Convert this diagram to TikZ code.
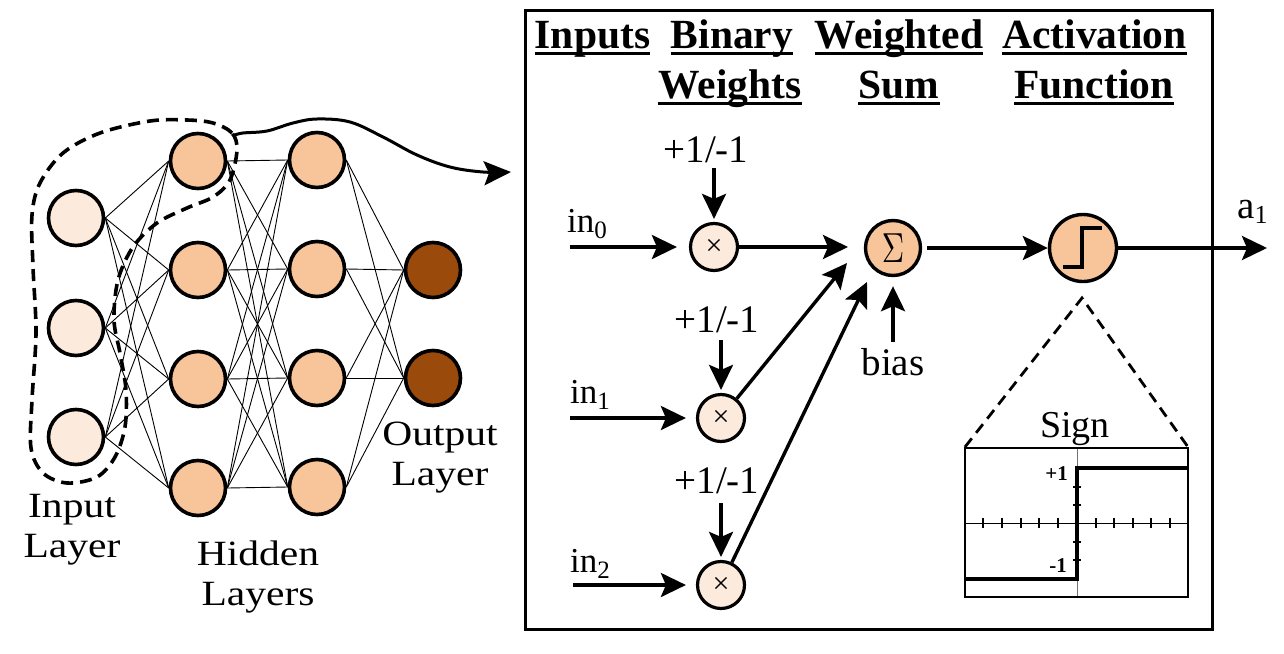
\documentclass[tikz,border=0pt]{standalone}
\usepackage{fontspec}
\setmainfont{Liberation Serif}
\usetikzlibrary{arrows.meta}
\definecolor{inC}{HTML}{FCEBDD}
\definecolor{hidC}{HTML}{F8C59B}
\definecolor{outC}{HTML}{9A4A0B}
\newcommand\myfs[2]{\fontsize{#1pt}{#2pt}\selectfont}
\begin{document}
\begin{tikzpicture}[x=1pt,y=-1pt,
  conn/.style={line width=0.9pt},
  neu/.style={circle, draw, line width=3.6pt, minimum size=55pt, inner sep=0pt},
  mult/.style={circle, draw, line width=3.2pt, fill=inC, minimum size=47pt, inner sep=0pt, font=\myfs{30}{30}},
  arr/.style={line width=3.4pt, -{Stealth[length=25pt, width=24pt, inset=5pt]}},
  hdr/.style={anchor=base, inner sep=0pt, font=\myfs{41.5}{45}\bfseries},
  uline/.style={line width=3pt},
  lbl/.style={anchor=base, inner sep=0pt, font=\myfs{35.5}{40.5}},
  txt/.style={anchor=base, inner sep=0pt, font=\myfs{39}{44}},
  dsh/.style={line width=3.6pt, dash pattern=on 12pt off 7pt},
]
\useasboundingbox (0,0) rectangle (1284,653);

% ---------------- left network ----------------
\foreach \i/\y in {1/218,2/328,3/437}
  \node[neu, fill=inC] (i\i) at (76,\y) {};
\foreach \i/\y in {1/161,2/270,3/379,4/488}
  \node[neu, fill=hidC] (h\i) at (198,\y) {};
\foreach \i/\y in {1/160,2/269,3/378,4/487}
  \node[neu, fill=hidC] (g\i) at (317,\y) {};
\foreach \i/\y in {1/270,2/378}
  \node[neu, fill=outC] (o\i) at (433,\y) {};

\foreach \a in {1,2,3} \foreach \b in {1,...,4} \draw[conn] (i\a.east) -- (h\b.west);
\foreach \a in {1,...,4} \foreach \b in {1,...,4} \draw[conn] (h\a.east) -- (g\b.west);
\foreach \a in {1,...,4} \foreach \b in {1,2} \draw[conn] (g\a.east) -- (o\b.west);

\node[lbl] (linput) at (72,517) {\scalebox{1.17}[1]{\begin{tabular}[t]{@{}c@{}}Input\\Layer\end{tabular}}};
\node[lbl] (lhidden) at (258,565) {\scalebox{1.17}[1]{\begin{tabular}[t]{@{}c@{}}Hidden\\Layers\end{tabular}}};
\node[lbl] (loutput) at (440,445) {\scalebox{1.17}[1]{\begin{tabular}[t]{@{}c@{}}Output\\Layer\end{tabular}}};

% dashed enclosure
\draw[dsh] plot[smooth cycle, tension=0.55] coordinates {
  (237,150) (232,133) (213,123) (187,120) (150,121) (100,133) (63,153)
  (40,183) (32,215) (33,267) (36,333) (32,400) (31,448) (43,473) (67,483)
  (97,477) (115,457) (125,427) (126,390) (120,353) (114,320) (118,280)
  (133,247) (157,223) (187,208) (213,197) (230,180)};

% curvy arrow to the box
\coordinate (cstart) at (235,135);
\coordinate (cend) at (511,172);
\draw[line width=3pt, -{Stealth[length=27pt, width=24pt, inset=5pt]}]
  plot[smooth, tension=0.6] coordinates {(cstart) (243,133) (267,131) (293,123) (317,119) (350,122)
  (383,137) (417,155) (450,167) (483,172) (cend)};

% ---------------- right box ----------------
\draw[line width=3pt] (525,10) rectangle (1212,629);

\node[hdr] (hInputs) at (592.5,48) {Inputs};
\node[hdr] (hBinary) at (732,48) {Binary};
\node[hdr] (hWeights) at (730,98) {Weights};
\node[hdr] (hWeighted) at (899,48) {Weighted};
\node[hdr] (hSum) at (899,98) {Sum};
\node[hdr] (hActivation) at (1094.5,48) {Activation};
\node[hdr] (hFunction) at (1094,98) {Function};
\foreach \n in {hInputs,hBinary,hWeights,hWeighted,hSum,hActivation,hFunction}
  \draw[uline] ([yshift=-5pt]\n.base west) -- ([yshift=-5pt]\n.base east);

% multiplier nodes
\node[mult] (m0) at (714,247) {×};
\node[mult] (m1) at (721,418) {×};
\node[mult] (m2) at (721,585) {×};

% inputs
\node[anchor=base west, inner sep=0pt, font=\myfs{35}{40}] (in0) at (567,232) {in\raisebox{-6pt}{\myfs{25}{25}0}};
\node[anchor=base west, inner sep=0pt, font=\myfs{35}{40}] (in1) at (570,403) {in\raisebox{-6pt}{\myfs{25}{25}1}};
\node[anchor=base west, inner sep=0pt, font=\myfs{35}{40}] (in2) at (570,572) {in\raisebox{-6pt}{\myfs{25}{25}2}};
\coordinate (s0) at (570,247);
\coordinate (s1) at (570,418);
\coordinate (s2) at (573,585);
\draw[arr, shorten >=12pt] (s0) -- (m0);
\draw[arr, shorten >=10pt] (s1) -- (m1);
\draw[arr, shorten >=10pt] (s2) -- (m2);

% weights
\node[txt] (w0) at (706,162) {+1/-1};
\node[txt] (w1) at (717,332) {+1/-1};
\node[txt] (w2) at (717,493) {+1/-1};
\draw[arr, shorten >=3pt] (m0.north |- 0,168) -- (m0.north);
\draw[arr, shorten >=3pt] (m1.north |- 0,340) -- (m1.north);
\draw[arr, shorten >=3pt] (m2.north |- 0,503) -- (m2.north);

% sum node
\node[circle, draw, line width=3.4pt, fill=hidC, minimum size=55pt, inner sep=0pt] (S) at (893,248) {\scalebox{3.1}[4.2]{\fontsize{10pt}{12pt}\selectfont$\Sigma$}};
\coordinate (t0) at (848,247);
\coordinate (t1) at (847,263);
\coordinate (t2) at (867,282);
\draw[arr] (m0) -- (t0);
\draw[arr] (m1) -- (t1);
\draw[arr] (m2) -- (t2);
\node[txt] (bias) at (893,375) {bias};
\draw[arr, shorten >=9pt] (S.south |- 0,342) -- (S.south);

% activation node
\node[circle, draw, line width=3.4pt, fill=hidC, minimum size=67pt, inner sep=0pt] (A) at (1083,248) {};
\draw[line width=3.5pt] ([shift={(-20,19)}]A.center) -- ([shift={(-1,19)}]A.center)
  -- ([shift={(-1,-20)}]A.center) -- ([shift={(19,-20)}]A.center);
\draw[arr, shorten <=5pt] (S) -- (A);
\coordinate (aend) at (1267,248);
\draw[arr] (A) -- (aend);
\node[anchor=base west, inner sep=0pt, font=\myfs{39}{40}] (a1) at (1237,218) {a\raisebox{-5pt}{\myfs{26}{26}1}};

% sign plot
\coordinate (apex) at (1082,298);
\draw[dsh, line width=2.8pt, dash pattern=on 11pt off 7pt] (965,447) -- (apex) -- (1188,447);
\node[anchor=base, inner sep=0pt, font=\myfs{38}{40}] (sign) at (1075,437) {Sign};
\draw[line width=1pt] (965,523) -- (1188,523);
\draw[line width=1pt, black!55] (1077,448) -- (1077,597);
\foreach \x in {983,1002,1021,1039,1058,1096,1114,1133,1151,1170}
  \draw[line width=2.5pt] (\x,518) -- (\x,528);
\foreach \y in {487,505,542,560}
  \draw[line width=2.5pt] (1073,\y) -- (1081,\y);
\draw[line width=4pt] (965,579) -- (1077,579) -- (1077,468) -- (1188,468);
\draw[line width=2.5pt] (965,448) rectangle (1188,597);
\node[anchor=base east, inner sep=0pt, font=\myfs{21}{22}\bfseries] (p1) at (1068,480) {+1};
\node[anchor=base east, inner sep=0pt, font=\myfs{21}{22}\bfseries] (n1) at (1067,572) {-1};
\end{tikzpicture}
\end{document}
